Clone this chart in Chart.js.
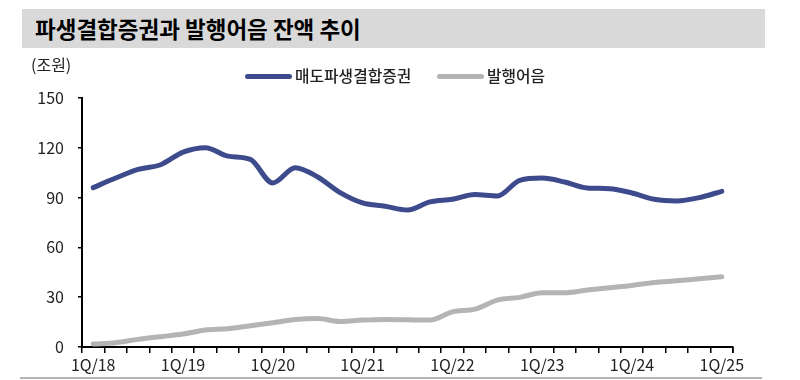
<!DOCTYPE html>
<html>
<head>
<meta charset="utf-8">
<script src="https://cdn.jsdelivr.net/npm/chart.js@4/dist/chart.umd.min.js"></script>
<style>
  html, body { margin: 0; padding: 0; background: #fff; }
  #wrap { position: relative; width: 800px; height: 380px; overflow: hidden; font-family: "Noto Sans CJK KR", "Noto Sans", sans-serif; }
  #title { position: absolute; left: 22px; top: 9px; width: 743px; height: 39px; background: #d9d9d9; box-sizing: border-box; padding-left: 13px; font-size: 22.5px; font-weight: bold; line-height: 39px; color: #000; }
  #unit { position: absolute; left: 31px; top: 52px; font-size: 16px; color: #222; }
  #legend { position: absolute; top: 65px; left: 245px; font-size: 15.8px; font-weight: 500; color: #222; white-space: nowrap; }
  .item { position: absolute; top: 0; height: 22px; line-height: 22px; }
  .swatch { display: inline-block; width: 47px; height: 5px; border-radius: 3px; vertical-align: middle; margin-right: 3px; position: relative; top: -1px; }
  #bottomrule { position: absolute; left: 20px; top: 377px; width: 742px; height: 2px; background: #b5b5b5; }
  canvas { position: absolute; left: 0; top: 0; }
</style>
</head>
<body>
<div id="wrap">
  <canvas id="c" width="800" height="380"></canvas>
  <div id="title">파생결합증권과 발행어음 잔액 추이</div>
  <div id="unit">(조원)</div>
  <div id="legend"></div>
  <div id="bottomrule"></div>
</div>
<script>
const categories = [
  "1Q/18","2Q/18","3Q/18","4Q/18",
  "1Q/19","2Q/19","3Q/19","4Q/19",
  "1Q/20","2Q/20","3Q/20","4Q/20",
  "1Q/21","2Q/21","3Q/21","4Q/21",
  "1Q/22","2Q/22","3Q/22","4Q/22",
  "1Q/23","2Q/23","3Q/23","4Q/23",
  "1Q/24","2Q/24","3Q/24","4Q/24",
  "1Q/25"
];
const tickLabels = ["1Q/18","1Q/19","1Q/20","1Q/21","1Q/22","1Q/23","1Q/24","1Q/25"];
const derivSecurities = [
  96.0, 101.8, 107.0, 109.8,
  117.4, 120.1, 115.0, 113.0,
  98.8, 108.0, 102.4, 93.0,
  86.8, 84.8, 82.5, 87.4,
  89.0, 91.8, 91.0, 100.4,
  101.8, 99.4, 95.8, 95.4,
  92.8, 89.0, 88.0, 90.0,
  93.8
];
const issuedNotes = [
  1.8, 2.6, 4.6, 6.2,
  7.8, 10.2, 11.0, 12.8,
  14.6, 16.6, 17.2, 15.4,
  16.2, 16.6, 16.4, 16.2,
  21.2, 22.8, 28.2, 29.9,
  32.7, 32.7, 34.3, 35.7,
  37.1, 38.9, 39.9, 41.1,
  42.3
];
const seriesNames = ["매도파생결합증권", "발행어음"];
const seriesColors = ["#3d4b8c", "#b4b4b4"];

// HTML legend
const legend = document.getElementById('legend');
const legendOffsets = [0, 192];
seriesNames.forEach((n, i) => {
  const d = document.createElement('div');
  d.className = 'item';
  d.style.left = legendOffsets[i] + 'px';
  d.innerHTML = '<span class="swatch" style="background:' + seriesColors[i] + '"></span>' + n;
  legend.appendChild(d);
});

const endTick = {
  id: 'endTick',
  afterDraw(chart) {
    const x = chart.scales.x;
    const ctx = chart.ctx;
    ctx.save();
    ctx.strokeStyle = '#000';
    ctx.lineWidth = 1.5;
    ctx.beginPath();
    ctx.moveTo(x.right, x.top);
    ctx.lineTo(x.right, x.top + 6);
    ctx.stroke();
    ctx.restore();
  }
};

const tickFont = { family: '"Noto Sans CJK KR", "Noto Sans", sans-serif', size: 16 };

new Chart(document.getElementById('c'), {
  type: 'line',
  data: {
    labels: categories,
    datasets: [
      { label: seriesNames[0], data: derivSecurities, borderColor: seriesColors[0], backgroundColor: seriesColors[0],
        borderWidth: 5, pointRadius: 0, tension: 0.4, cubicInterpolationMode: 'monotone', borderCapStyle: 'round', borderJoinStyle: 'round' },
      { label: seriesNames[1], data: issuedNotes, borderColor: seriesColors[1], backgroundColor: seriesColors[1],
        borderWidth: 5, pointRadius: 0, tension: 0.4, cubicInterpolationMode: 'monotone', borderCapStyle: 'round', borderJoinStyle: 'round' }
    ]
  },
  options: {
    responsive: false,
    animation: false,
    layout: { padding: { top: 98, right: 67, left: 0, bottom: 0 } },
    plugins: { legend: { display: false }, tooltip: { enabled: false } },
    scales: {
      x: {
        offset: true,
        grid: { offset: true, drawOnChartArea: false, drawTicks: true, tickLength: 6, color: '#000', lineWidth: 1.5 },
        border: { display: true, color: '#000', width: 2 },
        ticks: {
          autoSkip: false, maxRotation: 0, padding: 2, color: '#222', font: tickFont,
          callback: function(v, i) { const l = categories[i]; return tickLabels.includes(l) ? l : ''; }
        },
        afterFit(scale) { scale.height = 33; }
      },
      y: {
        min: 0, max: 150,
        grid: { drawOnChartArea: false, drawTicks: true, tickLength: 4, color: '#000', lineWidth: 1.5 },
        border: { display: true, color: '#000', width: 2 },
        ticks: { stepSize: 30, padding: 14, color: '#222', font: tickFont },
        afterFit(scale) { scale.width = 82; }
      }
    }
  },
  plugins: [endTick]
});
</script>
</body>
</html>
